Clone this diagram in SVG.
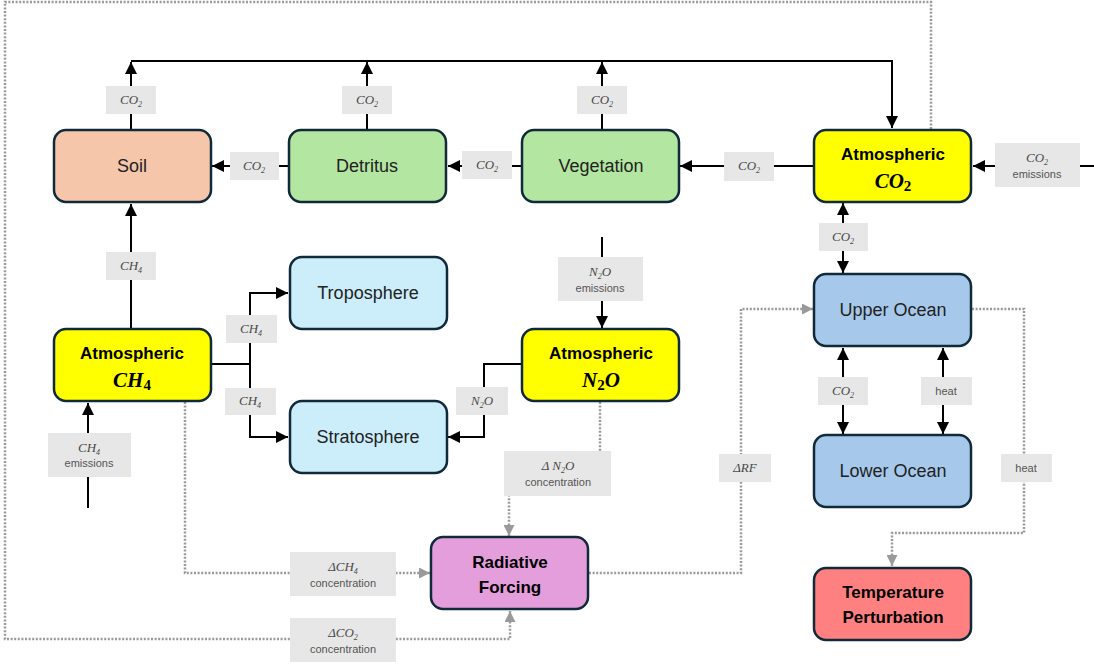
<svg xmlns="http://www.w3.org/2000/svg" width="1094" height="665" viewBox="0 0 1094 665">
<style>
.node{stroke:#102a3a;stroke-width:2.5}
.nt{font-family:"Liberation Sans",Arial,sans-serif;font-size:18px;fill:#222;text-anchor:middle}
.bt{font-family:"Liberation Sans",Arial,sans-serif;font-size:17px;font-weight:bold;fill:#000;text-anchor:middle}
.bm{font-family:"Liberation Serif","Times New Roman",serif;font-size:21px;font-weight:bold;font-style:italic;fill:#000;text-anchor:middle}
.ln{fill:none;stroke:#000;stroke-width:2}
.dl{fill:none;stroke:#9a9a9a;stroke-width:2.5;stroke-dasharray:2 1.6}
.lb{fill:#e7e7e7}
.lm{font-family:"Liberation Serif","Times New Roman",serif;font-size:13px;font-style:italic;fill:#4a4a4a;text-anchor:middle}
.ls{font-family:"Liberation Sans",Arial,sans-serif;font-size:11px;fill:#555;text-anchor:middle}
</style>
<defs>
<marker id="ah" markerUnits="userSpaceOnUse" markerWidth="12" markerHeight="12" refX="10" refY="5" orient="auto-start-reverse" viewBox="0 0 10 10">
<path d="M0,0 L10,5 L0,10 z" fill="#000"/>
</marker>
<marker id="gh" markerUnits="userSpaceOnUse" markerWidth="11" markerHeight="11" refX="10" refY="5" orient="auto" viewBox="0 0 10 10">
<path d="M0,0 L10,5 L0,10 z" fill="#9a9a9a"/>
</marker>
</defs>
<rect width="1094" height="665" fill="#fff"/>

<g id="connectors">
<path class="dl" d="M931,129 V2 H5 V639 H510 V611" marker-end="url(#gh)"/>
<path class="dl" d="M185,402 V573 H430" marker-end="url(#gh)"/>
<path class="dl" d="M600,402 V472 H509 V536" marker-end="url(#gh)"/>
<path class="dl" d="M589,573 H741 V309 H813" marker-end="url(#gh)"/>
<path class="dl" d="M972,309 H1024 V533 H892 V566" marker-end="url(#gh)"/>
<path class="ln" d="M131,61 H892 V128" marker-end="url(#ah)"/>
<path class="ln" d="M131,130 V62" marker-end="url(#ah)"/>
<path class="ln" d="M367,130 V62" marker-end="url(#ah)"/>
<path class="ln" d="M602,130 V62" marker-end="url(#ah)"/>
<path class="ln" d="M288,166 H212" marker-end="url(#ah)"/>
<path class="ln" d="M522,166 H448" marker-end="url(#ah)"/>
<path class="ln" d="M814,166 H680" marker-end="url(#ah)"/>
<path class="ln" d="M1094,166 H973" marker-end="url(#ah)"/>
<path class="ln" d="M843,203 V273" marker-start="url(#ah)" marker-end="url(#ah)"/>
<path class="ln" d="M843,348 V434" marker-start="url(#ah)" marker-end="url(#ah)"/>
<path class="ln" d="M943,348 V434" marker-start="url(#ah)" marker-end="url(#ah)"/>
<path class="ln" d="M131,329 V204" marker-end="url(#ah)"/>
<path class="ln" d="M88,508 V403" marker-end="url(#ah)"/>
<path class="ln" d="M211,364 H250"/>
<path class="ln" d="M250,364 V293 H288" marker-end="url(#ah)"/>
<path class="ln" d="M250,364 V437 H288" marker-end="url(#ah)"/>
<path class="ln" d="M602,237 V328" marker-end="url(#ah)"/>
<path class="ln" d="M522,364 H484 V437 H448" marker-end="url(#ah)"/>

<g id="labels">
<rect class="lb" x="106" y="86" width="50" height="28"/><text class="lm" x="131" y="104">CO<tspan font-size="8" dy="3">2</tspan></text>
<rect class="lb" x="342" y="86" width="50" height="28"/><text class="lm" x="367" y="104">CO<tspan font-size="8" dy="3">2</tspan></text>
<rect class="lb" x="577" y="86" width="50" height="28"/><text class="lm" x="602" y="104">CO<tspan font-size="8" dy="3">2</tspan></text>
<rect class="lb" x="230" y="152" width="49" height="28"/><text class="lm" x="254" y="170">CO<tspan font-size="8" dy="3">2</tspan></text>
<rect class="lb" x="462" y="151" width="50" height="28"/><text class="lm" x="487" y="169">CO<tspan font-size="8" dy="3">2</tspan></text>
<rect class="lb" x="724" y="152" width="50" height="29"/><text class="lm" x="749" y="170">CO<tspan font-size="8" dy="3">2</tspan></text>
<rect class="lb" x="995" y="143" width="85" height="44"/><text class="lm" x="1037" y="162">CO<tspan font-size="8" dy="3">2</tspan></text><text class="ls" x="1037" y="178">emissions</text>
<rect class="lb" x="819" y="223" width="49" height="28"/><text class="lm" x="843" y="241">CO<tspan font-size="8" dy="3">2</tspan></text>
<rect class="lb" x="818" y="377" width="50" height="28"/><text class="lm" x="843" y="395">CO<tspan font-size="8" dy="3">2</tspan></text>
<rect class="lb" x="921" y="377" width="51" height="28"/><text class="ls" x="946" y="395">heat</text>
<rect class="lb" x="1001" y="454" width="51" height="28"/><text class="ls" x="1026" y="472">heat</text>
<rect class="lb" x="106" y="252" width="50" height="28"/><text class="lm" x="131" y="270">CH<tspan font-size="8" dy="3">4</tspan></text>
<rect class="lb" x="226" y="315" width="51" height="28"/><text class="lm" x="251" y="333">CH<tspan font-size="8" dy="3">4</tspan></text>
<rect class="lb" x="225" y="388" width="51" height="27"/><text class="lm" x="250" y="405">CH<tspan font-size="8" dy="3">4</tspan></text>
<rect class="lb" x="48" y="433" width="83" height="44"/><text class="lm" x="89" y="452">CH<tspan font-size="8" dy="3">4</tspan></text><text class="ls" x="89" y="467">emissions</text>
<rect class="lb" x="558" y="257" width="85" height="44"/><text class="lm" x="600" y="276">N<tspan font-size="8" dy="3">2</tspan><tspan dy="-3">O</tspan></text><text class="ls" x="600" y="292">emissions</text>
<rect class="lb" x="456" y="387" width="52" height="28"/><text class="lm" x="482" y="405">N<tspan font-size="8" dy="3">2</tspan><tspan dy="-3">O</tspan></text>
<rect class="lb" x="504" y="451" width="107" height="45"/><text class="lm" x="558" y="470">Δ N<tspan font-size="8" dy="3">2</tspan><tspan dy="-3">O</tspan></text><text class="ls" x="558" y="486">concentration</text>
<rect class="lb" x="719" y="454" width="52" height="28"/><text class="lm" x="745" y="472">ΔRF</text>
<rect class="lb" x="290" y="552" width="106" height="44"/><text class="lm" x="343" y="571">ΔCH<tspan font-size="8" dy="3">4</tspan></text><text class="ls" x="343" y="587">concentration</text>
<rect class="lb" x="290" y="618" width="106" height="44"/><text class="lm" x="343" y="637">ΔCO<tspan font-size="8" dy="3">2</tspan></text><text class="ls" x="343" y="653">concentration</text>
</g>
</g>

<g id="soil"><rect class="node" x="54" y="130" width="157" height="72" rx="12" fill="#f5c6aa"/><text class="nt" x="132" y="172">Soil</text></g>
<g id="detritus"><rect class="node" x="289" y="130" width="157" height="72" rx="12" fill="#b3e6a1"/><text class="nt" x="367" y="172">Detritus</text></g>
<g id="vegetation"><rect class="node" x="522" y="130" width="157" height="72" rx="12" fill="#b3e6a1"/><text class="nt" x="601" y="172">Vegetation</text></g>
<g id="atm-co2"><rect class="node" x="814" y="130" width="157" height="72" rx="12" fill="#ffff00"/><text class="bt" x="893" y="160">Atmospheric</text><text class="bm" x="893" y="188">CO<tspan font-size="15" font-style="normal" dy="3">2</tspan></text></g>
<g id="troposphere"><rect class="node" x="290" y="257" width="157" height="72" rx="12" fill="#ccedfa"/><text class="nt" x="368" y="299">Troposphere</text></g>
<g id="stratosphere"><rect class="node" x="290" y="401" width="157" height="72" rx="12" fill="#ccedfa"/><text class="nt" x="368" y="443">Stratosphere</text></g>
<g id="atm-ch4"><rect class="node" x="54" y="329" width="157" height="72" rx="12" fill="#ffff00"/><text class="bt" x="132" y="359">Atmospheric</text><text class="bm" x="132" y="387">CH<tspan font-size="15" font-style="normal" dy="3">4</tspan></text></g>
<g id="atm-n2o"><rect class="node" x="522" y="329" width="157" height="72" rx="12" fill="#ffff00"/><text class="bt" x="601" y="359">Atmospheric</text><text class="bm" x="601" y="387">N<tspan font-size="15" font-style="normal" dy="3">2</tspan><tspan dy="-3">O</tspan></text></g>
<g id="upper-ocean"><rect class="node" x="814" y="274" width="157" height="72" rx="12" fill="#a6c9eb"/><text class="nt" x="893" y="316">Upper Ocean</text></g>
<g id="lower-ocean"><rect class="node" x="814" y="435" width="157" height="72" rx="12" fill="#a6c9eb"/><text class="nt" x="893" y="477">Lower Ocean</text></g>
<g id="radiative-forcing"><rect class="node" x="431" y="537" width="157" height="72" rx="12" fill="#e59edc"/><text class="bt" x="510" y="568">Radiative</text><text class="bt" x="510" y="593">Forcing</text></g>
<g id="temperature"><rect class="node" x="814" y="568" width="157" height="72" rx="12" fill="#ff8080"/><text class="bt" x="893" y="598">Temperature</text><text class="bt" x="893" y="623">Perturbation</text></g>
</svg>
